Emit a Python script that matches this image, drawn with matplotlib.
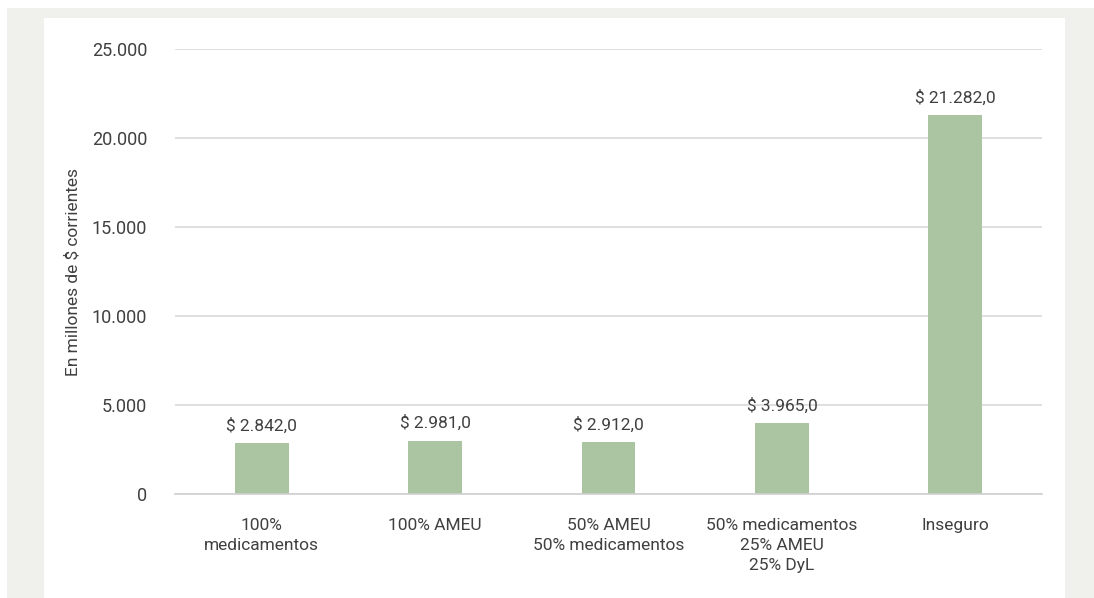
import matplotlib
matplotlib.use("Agg")
import matplotlib.pyplot as plt
from matplotlib.patches import Rectangle
from matplotlib.ticker import FuncFormatter

categorias = ["100%\nmedicamentos", "100% AMEU", "50% AMEU\n50% medicamentos",
              "50% medicamentos\n25% AMEU\n25% DyL", "Inseguro"]
valores = [2842.0, 2981.0, 2912.0, 3965.0, 21282.0]
yticks = [0, 5000, 10000, 15000, 20000, 25000]

plt.rcParams['font.family'] = ['Roboto', 'DejaVu Sans']
texto = '#404040'
verde = '#abc5a3'

def miles(v):
    return f"{v:,.0f}".replace(",", ".")

def etiqueta(v):
    s = f"{v:,.1f}".replace(",", "X").replace(".", ",").replace("X", ".")
    return "$ " + s

W, H = 1094, 598
fig = plt.figure(figsize=(W / 100, H / 100), dpi=100)
fig.patch.set_facecolor('white')
# marco gris y panel blanco
fig.add_artist(Rectangle((7 / W, 0), 1 - 7 / W, 1 - 8 / H, transform=fig.transFigure,
                         facecolor='#f0f0ec', edgecolor='none', zorder=-2))
fig.add_artist(Rectangle((44 / W, 0), (1065 - 44) / W, 1 - 18 / H, transform=fig.transFigure,
                         facecolor='white', edgecolor='none', zorder=-1))

ax = fig.add_axes([175 / W, 1 - 494 / H, (1042 - 175) / W, (494 - 49) / H])
ax.set_facecolor('none')
x = range(len(categorias))
ax.bar(x, valores, width=0.31, color=verde, zorder=2)
for xi, v in zip(x, valores):
    ax.annotate(etiqueta(v), (xi, v), xytext=(0, 7), textcoords='offset points',
                ha='center', va='bottom', fontsize=12.5, color=texto)

ax.set_xlim(-0.5, len(categorias) - 0.5)
ax.set_ylim(0, 25000)
ax.set_yticks(yticks)
ax.yaxis.set_major_formatter(FuncFormatter(lambda v, p: miles(v)))
ax.set_xticks(list(x))
ax.set_xticklabels(categorias, fontsize=12.5, color=texto, linespacing=1.45)
ax.tick_params(axis='y', length=0, pad=20, labelsize=13, labelcolor=texto)
ax.tick_params(axis='x', length=0, pad=17)
ax.grid(axis='y', color='#d9d9d9', linewidth=1.2, zorder=0)
for s in ['top', 'right', 'left']:
    ax.spines[s].set_visible(False)
ax.spines['bottom'].set_color('#d0d0d0')
ax.spines['bottom'].set_linewidth(1.2)
ax.set_ylabel("En millones de $ corrientes", fontsize=12.5, color=texto, labelpad=8)

fig.savefig("out.png", dpi=100)
